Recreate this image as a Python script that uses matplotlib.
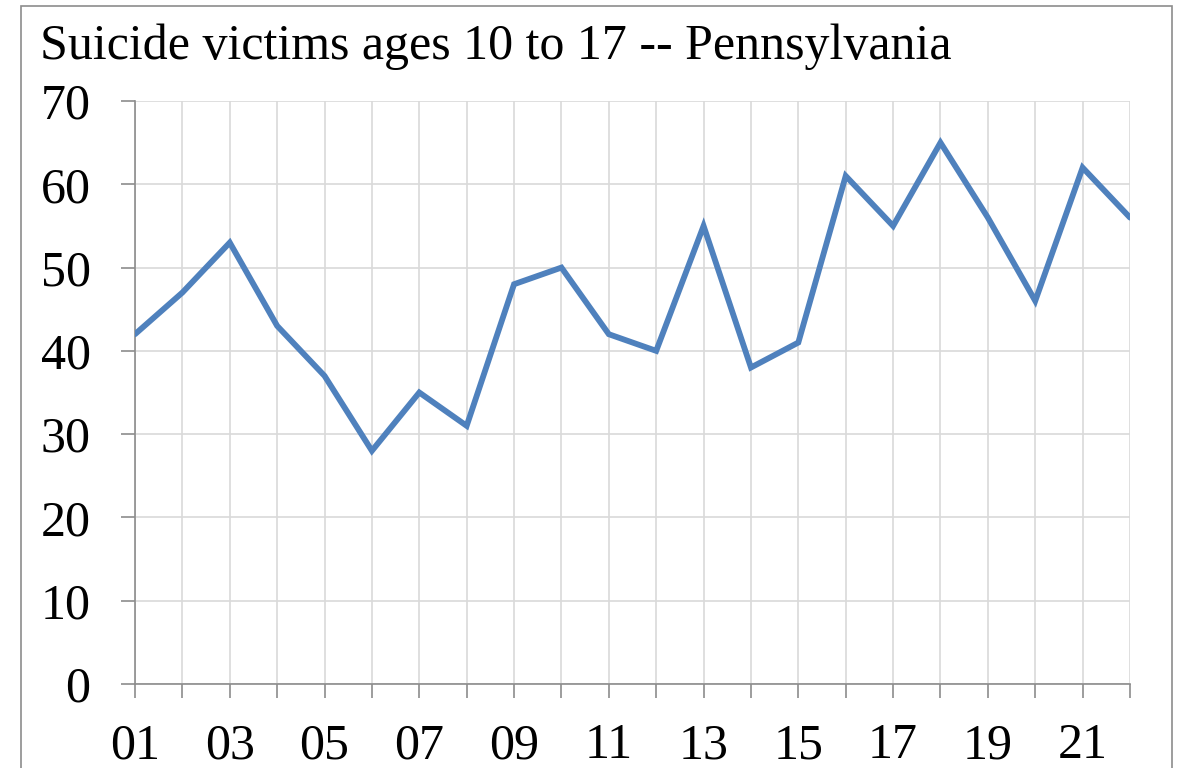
import matplotlib
matplotlib.use("Agg")
import matplotlib.pyplot as plt
from matplotlib.patches import Rectangle

years = ["01","02","03","04","05","06","07","08","09","10","11",
         "12","13","14","15","16","17","18","19","20","21","22"]
victims = [42, 47, 53, 43, 37, 28, 35, 31, 48, 50, 42,
           40, 55, 38, 41, 61, 55, 65, 56, 46, 62, 56]
yticks = [0, 10, 20, 30, 40, 50, 60, 70]
title = "Suicide victims ages 10 to 17 -- Pennsylvania"

plt.rcParams['font.family'] = ['Liberation Serif', 'DejaVu Serif']

fig = plt.figure(figsize=(11.78, 7.68), dpi=100)
fig.patch.set_facecolor("white")
# outer chart border
fig.patches.append(Rectangle((21/1178, -0.1), (1172-21)/1178, 1.1 - 6/768,
                             transform=fig.transFigure, fill=False,
                             edgecolor="#8c8c8c", linewidth=1.2))

ax = fig.add_axes([135/1178, 1-684/768, (1130-135)/1178, (684-101)/768])
x = list(range(len(years)))
ax.plot(x, victims, color="#4F81BD", linewidth=4.2, solid_joinstyle="miter",
        solid_capstyle="round", zorder=3)
ax.set_xlim(0, len(years)-1)
ax.set_ylim(0, 70)
ax.set_yticks(yticks)
ax.set_yticklabels([str(v) for v in yticks])
ax.set_xticks(x)
ax.set_xticklabels([y if i % 2 == 0 else "" for i, y in enumerate(years)])
ax.grid(True, color="#d9d9d9", linewidth=1.2)
ax.set_axisbelow(True)
for s in ["top", "right"]:
    ax.spines[s].set_visible(False)
for s in ["left", "bottom"]:
    ax.spines[s].set_color("#8c8c8c")
    ax.spines[s].set_linewidth(1.2)
ax.tick_params(axis="y", length=10, width=1.2, color="#8c8c8c", labelsize=36, pad=22)
ax.tick_params(axis="x", length=10, width=1.2, color="#8c8c8c", labelsize=36, pad=18)

fig.text(40/1178, 1-47/768, title, fontsize=36, va="center", ha="left")

fig.savefig("out.png", dpi=100)
